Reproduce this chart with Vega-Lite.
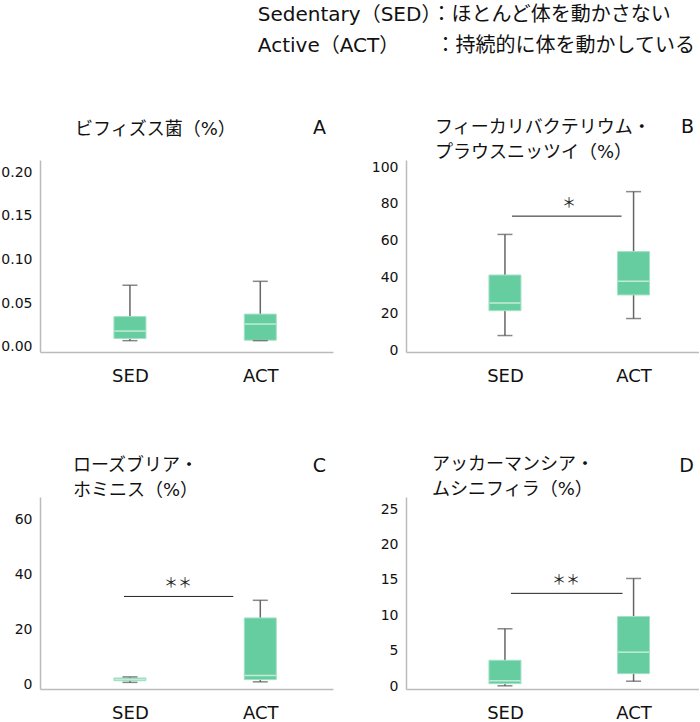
{
  "$schema": "https://vega.github.io/schema/vega-lite/v6.json",
  "padding": {"top": 5, "left": 0, "right": 0, "bottom": 0},
  "background": "white",
  "config": {
    "font": "DejaVu Sans, Noto Sans CJK JP",
    "view": {"stroke": null},
    "axis": {"domainColor": "#bbbbbb", "domainWidth": 1.5, "ticks": false, "grid": false, "labelColor": "#111111", "labelFont": "DejaVu Sans, Noto Sans CJK JP", "labelOverlap": false},
    "axisX": {"labelFontSize": 18, "labelPadding": 15, "labelAngle": 0},
    "axisY": {"labelFontSize": 14, "labelPadding": 8, "labelOverlap": false, "tickCount": 10},
    "title": {"font": "DejaVu Sans, Noto Sans CJK JP", "fontWeight": "normal", "color": "#111111"}
  },
  "title": {
    "text": ["Sedentary（SED）：ほとんど体を動かさない", "Active（ACT）　　 ：持続的に体を動かしている"],
    "anchor": "start", "dx": 257, "fontSize": 20, "lineHeight": 31, "offset": 62
  },
  "datasets": {
    "boxes": [
      {"panel": "A", "group": "SED", "min": 0.007, "q1": 0.0095, "median": 0.018, "q3": 0.0346, "max": 0.0705},
      {"panel": "A", "group": "ACT", "min": 0.007, "q1": 0.0075, "median": 0.026, "q3": 0.0374, "max": 0.075},
      {"panel": "B", "group": "SED", "min": 8.0, "q1": 21.6, "median": 25.8, "q3": 41.1, "max": 63.3},
      {"panel": "B", "group": "ACT", "min": 17.3, "q1": 30.2, "median": 37.7, "q3": 53.9, "max": 86.7},
      {"panel": "C", "group": "SED", "min": 0.7, "q1": 1.3, "median": 1.8, "q3": 2.3, "max": 2.7},
      {"panel": "C", "group": "ACT", "min": 0.9, "q1": 1.7, "median": 3.2, "q3": 24.1, "max": 30.5},
      {"panel": "D", "group": "SED", "min": 0.05, "q1": 0.35, "median": 0.76, "q3": 3.66, "max": 8.1},
      {"panel": "D", "group": "ACT", "min": 0.7, "q1": 1.77, "median": 4.8, "q3": 9.83, "max": 15.2}
    ],
    "sig": [
      {"panel": "B", "from": "SED", "to": "ACT", "y": 73.3, "label": "＊"},
      {"panel": "C", "from": "SED", "to": "ACT", "y": 31.9, "label": "＊＊"},
      {"panel": "D", "from": "SED", "to": "ACT", "y": 13.1, "label": "＊＊"}
    ]
  },
  "columns": 2,
  "bounds": "flush",
  "spacing": {"row": 145, "column": 73},
  "concat": [
    {
      "width": 293, "height": 192,
      "title": {"text": ["ビフィズス菌（%）"], "anchor": "start", "frame": "group", "dx": 35, "fontSize": 18, "lineHeight": 25, "offset": -20},
      "layer": [
        {
          "data": {"name": "boxes"},
          "transform": [{"filter": "datum.panel === 'A'"}],
          "encoding": {"x": {"field": "group", "type": "nominal", "title": null, "scale": {"type": "point", "domain": ["SED", "ACT"], "padding": 0.624, "align": 0.553}}},
          "layer": [
            {"mark": {"type": "rule", "color": "#666666", "strokeWidth": 1.5}, "encoding": {"y": {"field": "min", "type": "quantitative", "title": null, "scale": {"domain": [-0.006, 0.214], "nice": false, "zero": false}, "axis": {"values": [0, 0.05, 0.1, 0.15, 0.2], "format": ".2f", "labelOverlap": false, "tickCount": 10}}, "y2": {"field": "max"}}},
            {"mark": {"type": "bar", "size": 32, "color": "#66cda0", "stroke": "#a3e2c6", "strokeWidth": 1}, "encoding": {"y": {"field": "q1", "type": "quantitative", "title": null}, "y2": {"field": "q3"}}},
            {"mark": {"type": "tick", "size": 31, "thickness": 1.5, "color": "#eaf8f1"}, "encoding": {"y": {"field": "median", "type": "quantitative", "title": null}}},
            {"mark": {"type": "tick", "size": 15, "thickness": 1.5, "color": "#555555"}, "encoding": {"y": {"field": "min", "type": "quantitative", "title": null}}},
            {"mark": {"type": "tick", "size": 15, "thickness": 1.5, "color": "#555555"}, "encoding": {"y": {"field": "max", "type": "quantitative", "title": null}}}
          ]
        },
        {
          "data": {"values": [{"letter": "A"}]},
          "mark": {"type": "text", "align": "right", "baseline": "middle", "dx": -7, "dy": -32, "fontSize": 19, "color": "#111111"},
          "encoding": {"x": {"value": "width"}, "y": {"value": 0}, "text": {"field": "letter"}}
        }
      ]
    },
    {
      "width": 293, "height": 192,
      "title": {"text": ["フィーカリバクテリウム・", "プラウスニッツイ（%）"], "anchor": "start", "frame": "group", "dx": 29, "fontSize": 18, "lineHeight": 25, "offset": -44},
      "layer": [
        {
          "data": {"name": "boxes"},
          "transform": [{"filter": "datum.panel === 'B'"}],
          "encoding": {"x": {"field": "group", "type": "nominal", "title": null, "scale": {"type": "point", "domain": ["SED", "ACT"], "padding": 0.639, "align": 0.602}}},
          "layer": [
            {"mark": {"type": "rule", "color": "#666666", "strokeWidth": 1.5}, "encoding": {"y": {"field": "min", "type": "quantitative", "title": null, "scale": {"domain": [-1, 104], "nice": false, "zero": false}, "axis": {"values": [0, 20, 40, 60, 80, 100], "labelOverlap": false, "tickCount": 10}}, "y2": {"field": "max"}}},
            {"mark": {"type": "bar", "size": 32, "color": "#66cda0", "stroke": "#a3e2c6", "strokeWidth": 1}, "encoding": {"y": {"field": "q1", "type": "quantitative", "title": null}, "y2": {"field": "q3"}}},
            {"mark": {"type": "tick", "size": 31, "thickness": 1.5, "color": "#eaf8f1"}, "encoding": {"y": {"field": "median", "type": "quantitative", "title": null}}},
            {"mark": {"type": "tick", "size": 15, "thickness": 1.5, "color": "#555555"}, "encoding": {"y": {"field": "min", "type": "quantitative", "title": null}}},
            {"mark": {"type": "tick", "size": 15, "thickness": 1.5, "color": "#555555"}, "encoding": {"y": {"field": "max", "type": "quantitative", "title": null}}}
          ]
        },
        {
          "data": {"name": "sig"},
          "transform": [{"filter": "datum.panel === 'B'"}],
          "layer": [
            {"mark": {"type": "rule", "color": "#222222", "strokeWidth": 1, "xOffset": 7, "x2Offset": -12}, "encoding": {"x": {"field": "from", "type": "nominal", "title": null}, "x2": {"field": "to"}, "y": {"field": "y", "type": "quantitative", "title": null}}},
            {"mark": {"type": "text", "xOffset": 64, "dy": -13, "fontSize": 14, "baseline": "middle", "color": "#222222", "font": "Noto Sans CJK JP"}, "encoding": {"x": {"field": "from", "type": "nominal", "title": null}, "y": {"field": "y", "type": "quantitative", "title": null}, "text": {"field": "label"}}}
          ]
        },
        {
          "data": {"values": [{"letter": "B"}]},
          "mark": {"type": "text", "align": "right", "baseline": "middle", "dx": -5, "dy": -33, "fontSize": 19, "color": "#111111"},
          "encoding": {"x": {"value": "width"}, "y": {"value": 0}, "text": {"field": "letter"}}
        }
      ]
    },
    {
      "width": 293, "height": 192,
      "title": {"text": ["ローズブリア・", "ホミニス（%）"], "anchor": "start", "frame": "group", "dx": 33, "fontSize": 18, "lineHeight": 25, "offset": -43},
      "layer": [
        {
          "data": {"name": "boxes"},
          "transform": [{"filter": "datum.panel === 'C'"}],
          "encoding": {"x": {"field": "group", "type": "nominal", "title": null, "scale": {"type": "point", "domain": ["SED", "ACT"], "padding": 0.624, "align": 0.553}}},
          "layer": [
            {"mark": {"type": "rule", "color": "#666666", "strokeWidth": 1.5}, "encoding": {"y": {"field": "min", "type": "quantitative", "title": null, "scale": {"domain": [-1.7, 68], "nice": false, "zero": false}, "axis": {"values": [0, 20, 40, 60], "labelOverlap": false, "tickCount": 10}}, "y2": {"field": "max"}}},
            {"mark": {"type": "bar", "size": 32, "color": "#66cda0", "stroke": "#a3e2c6", "strokeWidth": 1}, "encoding": {"y": {"field": "q1", "type": "quantitative", "title": null}, "y2": {"field": "q3"}}},
            {"mark": {"type": "tick", "size": 31, "thickness": 1.5, "color": "#eaf8f1"}, "encoding": {"y": {"field": "median", "type": "quantitative", "title": null}}},
            {"mark": {"type": "tick", "size": 15, "thickness": 1.5, "color": "#555555"}, "encoding": {"y": {"field": "min", "type": "quantitative", "title": null}}},
            {"mark": {"type": "tick", "size": 15, "thickness": 1.5, "color": "#555555"}, "encoding": {"y": {"field": "max", "type": "quantitative", "title": null}}}
          ]
        },
        {
          "data": {"name": "sig"},
          "transform": [{"filter": "datum.panel === 'C'"}],
          "layer": [
            {"mark": {"type": "rule", "color": "#222222", "strokeWidth": 1, "xOffset": -6, "x2Offset": -27}, "encoding": {"x": {"field": "from", "type": "nominal", "title": null}, "x2": {"field": "to"}, "y": {"field": "y", "type": "quantitative", "title": null}}},
            {"mark": {"type": "text", "xOffset": 48, "dy": -13, "fontSize": 14, "baseline": "middle", "color": "#222222", "font": "Noto Sans CJK JP"}, "encoding": {"x": {"field": "from", "type": "nominal", "title": null}, "y": {"field": "y", "type": "quantitative", "title": null}, "text": {"field": "label"}}}
          ]
        },
        {
          "data": {"values": [{"letter": "C"}]},
          "mark": {"type": "text", "align": "right", "baseline": "middle", "dx": -7, "dy": -31, "fontSize": 19, "color": "#111111"},
          "encoding": {"x": {"value": "width"}, "y": {"value": 0}, "text": {"field": "letter"}}
        }
      ]
    },
    {
      "width": 293, "height": 192,
      "title": {"text": ["アッカーマンシア・", "ムシニフィラ（%）"], "anchor": "start", "frame": "group", "dx": 26, "fontSize": 18, "lineHeight": 25, "offset": -42},
      "layer": [
        {
          "data": {"name": "boxes"},
          "transform": [{"filter": "datum.panel === 'D'"}],
          "encoding": {"x": {"field": "group", "type": "nominal", "title": null, "scale": {"type": "point", "domain": ["SED", "ACT"], "padding": 0.639, "align": 0.602}}},
          "layer": [
            {"mark": {"type": "rule", "color": "#666666", "strokeWidth": 1.5}, "encoding": {"y": {"field": "min", "type": "quantitative", "title": null, "scale": {"domain": [-0.4, 26.7], "nice": false, "zero": false}, "axis": {"values": [0, 5, 10, 15, 20, 25], "labelOverlap": false, "tickCount": 10}}, "y2": {"field": "max"}}},
            {"mark": {"type": "bar", "size": 32, "color": "#66cda0", "stroke": "#a3e2c6", "strokeWidth": 1}, "encoding": {"y": {"field": "q1", "type": "quantitative", "title": null}, "y2": {"field": "q3"}}},
            {"mark": {"type": "tick", "size": 31, "thickness": 1.5, "color": "#eaf8f1"}, "encoding": {"y": {"field": "median", "type": "quantitative", "title": null}}},
            {"mark": {"type": "tick", "size": 15, "thickness": 1.5, "color": "#555555"}, "encoding": {"y": {"field": "min", "type": "quantitative", "title": null}}},
            {"mark": {"type": "tick", "size": 15, "thickness": 1.5, "color": "#555555"}, "encoding": {"y": {"field": "max", "type": "quantitative", "title": null}}}
          ]
        },
        {
          "data": {"name": "sig"},
          "transform": [{"filter": "datum.panel === 'D'"}],
          "layer": [
            {"mark": {"type": "rule", "color": "#222222", "strokeWidth": 1, "xOffset": 6, "x2Offset": -11}, "encoding": {"x": {"field": "from", "type": "nominal", "title": null}, "x2": {"field": "to"}, "y": {"field": "y", "type": "quantitative", "title": null}}},
            {"mark": {"type": "text", "xOffset": 61, "dy": -13, "fontSize": 14, "baseline": "middle", "color": "#222222", "font": "Noto Sans CJK JP"}, "encoding": {"x": {"field": "from", "type": "nominal", "title": null}, "y": {"field": "y", "type": "quantitative", "title": null}, "text": {"field": "label"}}}
          ]
        },
        {
          "data": {"values": [{"letter": "D"}]},
          "mark": {"type": "text", "align": "right", "baseline": "middle", "dx": -5, "dy": -31, "fontSize": 19, "color": "#111111"},
          "encoding": {"x": {"value": "width"}, "y": {"value": 0}, "text": {"field": "letter"}}
        }
      ]
    }
  ]
}
